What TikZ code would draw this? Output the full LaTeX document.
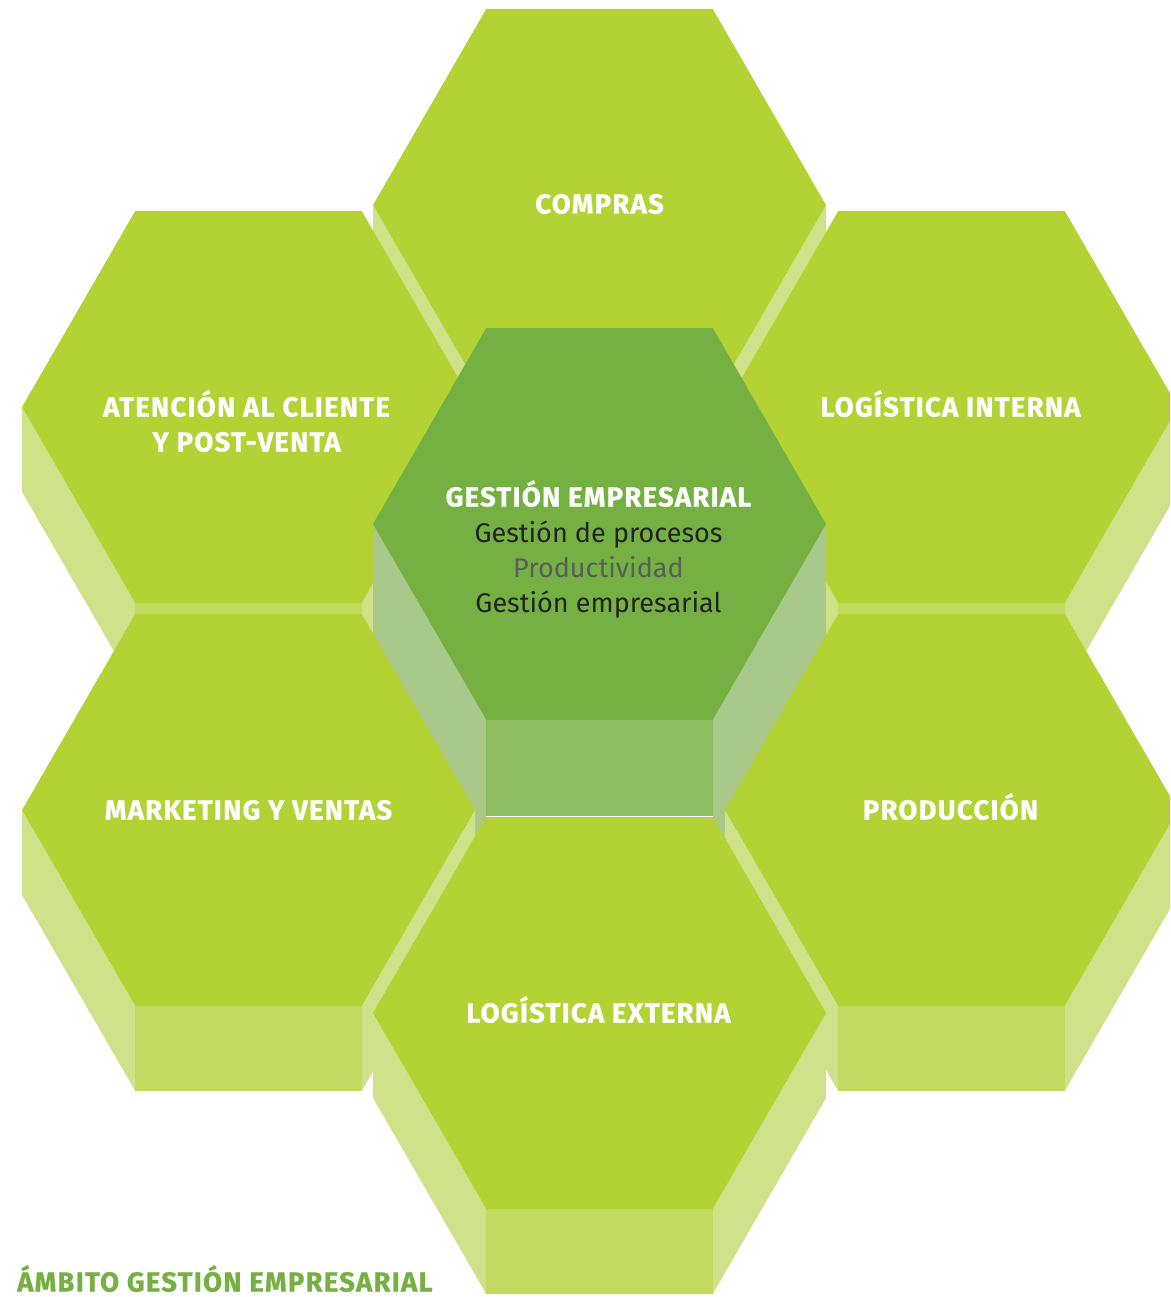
\documentclass[tikz,border=0pt]{standalone}
\usepackage{fontspec}
\setmainfont{Fira Sans}
\newfontfamily\labelfont[LetterSpace=4.5,FakeBold=0.8]{Fira Sans}
\definecolor{limetop}{HTML}{B3D334}
\definecolor{limeside}{HTML}{CFE189}
\definecolor{limebot}{HTML}{C1DA5F}
\definecolor{ctrtop}{HTML}{75B043}
\definecolor{ctrside}{HTML}{A9C98B}
\definecolor{ctrbot}{HTML}{8FBE62}
\definecolor{titlegreen}{HTML}{76B043}
\definecolor{darktext}{HTML}{222222}
\definecolor{graytext}{HTML}{5C5C5C}
\def\hexR{226.5}
\def\hexRh{113.25}
\def\hexH{196}
% #1 cx, #2 cy, #3 side depth, #4 bottom depth, #5 top, #6 side, #7 bottom
\newcommand\hexprism[7]{%
  \fill[#6] (#1-\hexR,#2) -- (#1-\hexRh,#2+\hexH) -- (#1-\hexRh,#2+\hexH+#3) -- (#1-\hexR,#2+#3) -- cycle;
  \fill[#6] (#1+\hexR,#2) -- (#1+\hexRh,#2+\hexH) -- (#1+\hexRh,#2+\hexH+#3) -- (#1+\hexR,#2+#3) -- cycle;
  \fill[#7] (#1-\hexRh,#2+\hexH) rectangle (#1+\hexRh,#2+\hexH+#4);
  \fill[#5] (#1-\hexR,#2) -- (#1-\hexRh,#2-\hexH) -- (#1+\hexRh,#2-\hexH) -- (#1+\hexR,#2) -- (#1+\hexRh,#2+\hexH) -- (#1-\hexRh,#2+\hexH) -- cycle;
}
\tikzset{
  hexlabel/.style={text=white, font=\labelfont\bfseries\fontsize{27.5}{33}\selectfont, anchor=base, inner sep=0pt},
  bodyline/.style={text=darktext, font=\fontsize{27}{33}\selectfont, anchor=base, inner sep=0pt},
  titlelabel/.style={text=titlegreen, font=\labelfont\bfseries\fontsize{27.5}{33}\selectfont, anchor=base west, inner sep=0pt}
}
\begin{document}
\begin{tikzpicture}[x=1pt,y=-1pt]
\useasboundingbox (0,0) rectangle (1170,1297);
\begin{scope}
\clip (0,0) rectangle (1170,1297);
\hexprism{599.5}{205}{85}{85}{limetop}{limeside}{limebot}
\hexprism{248.5}{407}{85}{85}{limetop}{limeside}{limebot}
\hexprism{951.5}{407}{85}{85}{limetop}{limeside}{limebot}
\hexprism{599.5}{524}{150}{96}{ctrtop}{ctrside}{ctrbot}
\hexprism{248.5}{810}{85}{85}{limetop}{limeside}{limebot}
\hexprism{951.5}{810}{85}{85}{limetop}{limeside}{limebot}
\hexprism{599.5}{1013}{85}{85}{limetop}{limeside}{limebot}
\end{scope}
\node[hexlabel] (compras) at (599.5,213.5) {COMPRAS};
\node[hexlabel] (atencion1) at (246.5,416.5) {ATENCIÓN AL CLIENTE};
\node[hexlabel] (atencion2) at (246.5,451.5) {Y POST-VENTA};
\node[hexlabel] (loginterna) at (950.5,416.5) {LOGÍSTICA INTERNA};
\node[hexlabel] (gestion) at (598.5,506.5) {GESTIÓN EMPRESARIAL};
\node[bodyline] (procesos) at (598.5,542.5) {Gestión de procesos};
\node[bodyline, text=graytext] (productividad) at (598.5,577.5) {Productividad};
\node[bodyline] (empresarial) at (598.5,612.5) {Gestión empresarial};
\node[hexlabel] (marketing) at (248.5,819.5) {MARKETING Y VENTAS};
\node[hexlabel] (produccion) at (950.5,819.5) {PRODUCCIÓN};
\node[hexlabel] (logexterna) at (598.5,1022.5) {LOGÍSTICA EXTERNA};
\node[titlelabel] (ambito) at (17,1291.5) {ÁMBITO GESTIÓN EMPRESARIAL};
\end{tikzpicture}
\end{document}
